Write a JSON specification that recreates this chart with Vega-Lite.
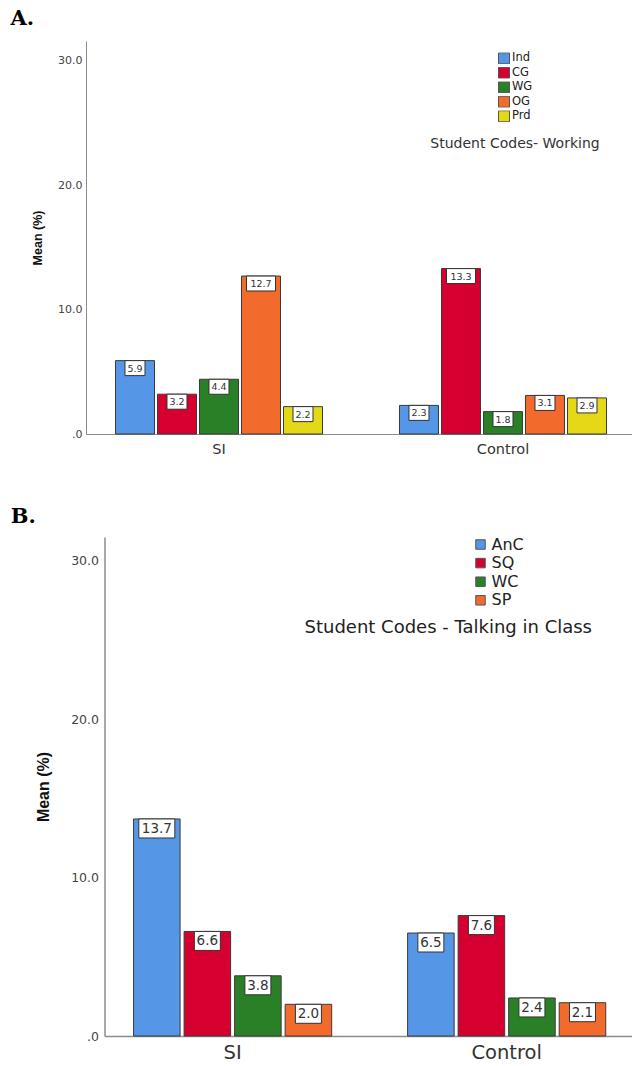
{
  "$schema": "https://vega.github.io/schema/vega-lite/v6.json",
  "padding": {"left": 10, "top": 8, "right": 0, "bottom": 0},
  "autosize": {"type": "pad"},
  "spacing": 49,
  "center": true,
  "background": "white",
  "resolve": {
    "scale": {"color": "independent", "xOffset": "independent", "y": "independent", "x": "independent"},
    "legend": {"color": "independent"},
    "axis": {"x": "independent", "y": "independent"}
  },
  "config": {
    "view": {"stroke": null},
    "axis": {"grid": false, "ticks": false, "domainColor": "#8c8c8c", "labelFont": "DejaVu Sans", "labelColor": "#444"},
    "legend": {"labelFont": "DejaVu Sans", "titleFont": "DejaVu Sans", "titleLimit": 600}
  },
  "vconcat": [
    {
      "title": {"text": "A.", "anchor": "start", "frame": "bounds", "dx": -21, "font": "DejaVu Serif", "fontSize": 21, "fontWeight": "bold", "color": "black", "offset": 12},
      "width": 564,
      "height": 393,
      "data": {"values": [
        {"group": "SI", "code": "Ind", "value": 5.9},
        {"group": "SI", "code": "CG", "value": 3.2},
        {"group": "SI", "code": "WG", "value": 4.4},
        {"group": "SI", "code": "OG", "value": 12.7},
        {"group": "SI", "code": "Prd", "value": 2.2},
        {"group": "Control", "code": "Ind", "value": 2.3},
        {"group": "Control", "code": "CG", "value": 13.3},
        {"group": "Control", "code": "WG", "value": 1.8},
        {"group": "Control", "code": "OG", "value": 3.1},
        {"group": "Control", "code": "Prd", "value": 2.9}
      ]},
      "encoding": {
        "x": {"field": "group", "type": "nominal", "sort": ["SI", "Control"],
              "scale": {"paddingInner": 0.271, "paddingOuter": 0.1285, "align": 0.404},
              "axis": {"title": null, "labelAngle": 0, "labelFontSize": 14.5, "labelPadding": 8, "labelColor": "#333", "domainWidth": 1}},
        "xOffset": {"field": "code", "type": "nominal", "sort": ["Ind", "CG", "WG", "OG", "Prd"],
                    "scale": {"paddingInner": 0.071, "paddingOuter": 0}},
        "y": {"field": "value", "type": "quantitative",
              "scale": {"domain": [0, 31.6], "nice": false},
              "axis": {"title": "Mean (%)", "values": [0, 10, 20, 30], "labelExpr": "datum.value == 0 ? '.0' : format(datum.value, '.1f')",
                       "labelFontSize": 11, "labelPadding": 4, "titleFont": "Liberation Sans", "titleFontWeight": "bold", "titleFontSize": 12.5, "titleColor": "#111", "titlePadding": 13, "domainWidth": 1}}
      },
      "layer": [
        {
          "mark": {"type": "bar", "stroke": "#3a3a3a", "strokeWidth": 1},
          "encoding": {
            "color": {"field": "code", "type": "nominal",
                      "scale": {"domain": ["Ind", "CG", "WG", "OG", "Prd"], "range": ["#5596e6", "#d5002f", "#2a8026", "#f26a2c", "#e5d817"]},
                      "legend": {"orient": "none", "legendX": 344, "legendY": 11.5, "title": "Student Codes- Working", "titleOrient": "bottom", "titleAnchor": "middle",
                                 "titleFontSize": 14, "titleFontWeight": "normal", "titleColor": "#333", "titlePadding": 14,
                                 "symbolType": "square", "symbolSize": 121, "symbolStrokeColor": "#555", "symbolStrokeWidth": 1, "symbolOpacity": 1,
                                 "labelFontSize": 11.5, "labelColor": "#222", "labelOffset": 2, "rowPadding": 1.5, "clipHeight": 11.5}}
          }
        },
        {
          "transform": [{"filter": "datum.value < 10"}],
          "mark": {"type": "point", "shape": "M-1,0L1,0L1,1.5L-1,1.5Z", "size": 400, "filled": true, "fill": "white", "stroke": "#333", "strokeWidth": 1, "opacity": 1}
        },
        {
          "transform": [{"filter": "datum.value >= 10"}],
          "mark": {"type": "point", "shape": "M-1,0L1,0L1,1.03L-1,1.03Z", "size": 841, "filled": true, "fill": "white", "stroke": "#333", "strokeWidth": 1, "opacity": 1}
        },
        {
          "mark": {"type": "text", "dy": 8, "baseline": "middle", "align": "center", "font": "DejaVu Sans", "fontSize": 9.5, "fill": "#333"},
          "encoding": {"text": {"field": "value", "type": "quantitative", "format": ".1f"}}
        }
      ]
    },
    {
      "title": {"text": "B.", "anchor": "start", "frame": "bounds", "dx": -25, "font": "DejaVu Serif", "fontSize": 21, "fontWeight": "bold", "color": "black", "offset": 10},
      "width": 527,
      "height": 499,
      "data": {"values": [
        {"group": "SI", "code": "AnC", "value": 13.7},
        {"group": "SI", "code": "SQ", "value": 6.6},
        {"group": "SI", "code": "WC", "value": 3.8},
        {"group": "SI", "code": "SP", "value": 2.0},
        {"group": "Control", "code": "AnC", "value": 6.5},
        {"group": "Control", "code": "SQ", "value": 7.6},
        {"group": "Control", "code": "WC", "value": 2.4},
        {"group": "Control", "code": "SP", "value": 2.1}
      ]},
      "encoding": {
        "x": {"field": "group", "type": "nominal", "sort": ["SI", "Control"],
              "scale": {"paddingInner": 0.277, "paddingOuter": 0.1, "align": 0.53},
              "axis": {"title": null, "labelAngle": 0, "labelFontSize": 19.5, "labelPadding": 7, "labelColor": "#333", "domainWidth": 1.5}},
        "xOffset": {"field": "code", "type": "nominal", "sort": ["AnC", "SQ", "WC", "SP"],
                    "scale": {"paddingInner": 0.079, "paddingOuter": 0}},
        "y": {"field": "value", "type": "quantitative",
              "scale": {"domain": [0, 31.5], "nice": false},
              "axis": {"title": "Mean (%)", "values": [0, 10, 20, 30], "labelExpr": "datum.value == 0 ? '.0' : format(datum.value, '.1f')",
                       "labelFontSize": 12.5, "labelPadding": 6, "titleFont": "Liberation Sans", "titleFontWeight": "bold", "titleFontSize": 16, "titleColor": "#111", "titlePadding": 19, "domainWidth": 1.5}}
      },
      "layer": [
        {
          "mark": {"type": "bar", "stroke": "#3a3a3a", "strokeWidth": 1},
          "encoding": {
            "color": {"field": "code", "type": "nominal",
                      "scale": {"domain": ["AnC", "SQ", "WC", "SP"], "range": ["#5596e6", "#d5002f", "#2a8026", "#f26a2c"]},
                      "legend": {"orient": "none", "legendX": 200, "legendY": -0.5, "title": "Student Codes - Talking in Class", "titleOrient": "bottom", "titleAnchor": "start", "titleAlign": "left",
                                 "titleFontSize": 18, "titleFontWeight": "normal", "titleColor": "#222", "titlePadding": 10,
                                 "symbolType": "square", "symbolSize": 90, "symbolOffset": 168, "symbolStrokeColor": "#555", "symbolStrokeWidth": 1, "symbolOpacity": 1,
                                 "labelFontSize": 16, "labelColor": "#222", "labelOffset": 3, "rowPadding": 2.6, "clipHeight": 16}}
          }
        },
        {
          "transform": [{"filter": "datum.value < 10"}],
          "mark": {"type": "point", "shape": "M-1,0L1,0L1,1.46L-1,1.46Z", "size": 676, "filled": true, "fill": "white", "stroke": "#333", "strokeWidth": 1, "opacity": 1}
        },
        {
          "transform": [{"filter": "datum.value >= 10"}],
          "mark": {"type": "point", "shape": "M-1,0L1,0L1,1.056L-1,1.056Z", "size": 1296, "filled": true, "fill": "white", "stroke": "#333", "strokeWidth": 1, "opacity": 1}
        },
        {
          "mark": {"type": "text", "dy": 10, "baseline": "middle", "align": "center", "font": "DejaVu Sans", "fontSize": 13.5, "fill": "#333"},
          "encoding": {"text": {"field": "value", "type": "quantitative", "format": ".1f"}}
        }
      ]
    }
  ]
}
